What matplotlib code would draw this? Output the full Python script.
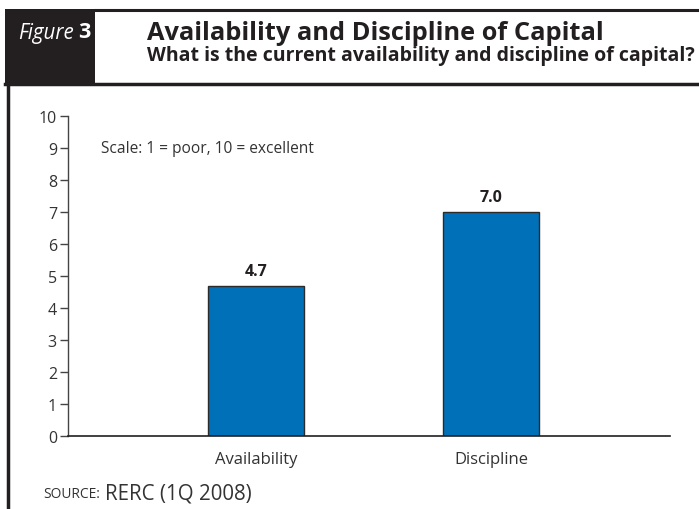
import matplotlib
matplotlib.use("Agg")
import matplotlib.pyplot as plt
from matplotlib.patches import Rectangle
from matplotlib.lines import Line2D

categories = ["Availability", "Discipline"]
values = [4.7, 7.0]
value_labels = ["4.7", "7.0"]
yticks = [0, 1, 2, 3, 4, 5, 6, 7, 8, 9, 10]

W, H = 699, 510
plt.rcParams['font.family'] = ['Open Sans', 'DejaVu Sans']
fig = plt.figure(figsize=(W / 100, H / 100), dpi=100)
renderer = fig.canvas.get_renderer()

def fx(x):
    return x / W

def fy(y):
    return 1 - y / H

def fit(t, target_px):
    w = t.get_window_extent(renderer).width
    t.set_fontsize(t.get_fontsize() * target_px / w)

# Header elements
fig.patches.append(Rectangle((fx(5), fy(85)), fx(95) - fx(5), fy(10) - fy(85),
                             transform=fig.transFigure, facecolor="#231f20",
                             edgecolor="none", zorder=1))
fig.lines.append(Line2D([fx(95), fx(699)], [fy(11), fy(11)], transform=fig.transFigure,
                        color="#231f20", lw=2.2))
fig.lines.append(Line2D([fx(5), fx(699)], [fy(85), fy(85)], transform=fig.transFigure,
                        color="#231f20", lw=2.5))
fig.lines.append(Line2D([fx(8), fx(8)], [fy(85), fy(510)], transform=fig.transFigure,
                        color="#231f20", lw=2.5))

t = fig.text(fx(18), fy(33), "Figure", color="white", fontsize=15, style="italic",
             va="center", ha="left")
fit(t, 56)
t = fig.text(fx(78), fy(33), "3", color="white", fontsize=15.5, fontweight="bold",
             va="center", ha="left")
t = fig.text(fx(147), fy(33), "Availability and Discipline of Capital", color="#231f20",
             fontsize=16, fontweight="bold", va="center", ha="left")
fit(t, 455)
t = fig.text(fx(147), fy(56), "What is the current availability and discipline of capital?",
             color="#231f20", fontsize=12, fontweight="bold", va="center", ha="left")
fit(t, 548)

# Axes
ax = fig.add_axes([fx(68), fy(437), fx(670) - fx(68), fy(117) - fy(437)])
x = list(range(len(categories)))
bars = ax.bar(x, values, width=0.41, color="#0070b8", edgecolor="#2b2b2b", linewidth=1.0,
              zorder=2)
for xi, v, lab in zip(x, values, value_labels):
    ax.annotate(lab, (xi, v), xytext=(0, 5), textcoords="offset points",
                ha="center", va="bottom", fontsize=11.5, fontweight="bold", color="#231f20")

ax.set_xlim(-0.8, 1.762)
ax.set_ylim(0, 10)
ax.set_yticks(yticks)
ax.set_yticklabels([str(v) for v in yticks])
ax.set_xticks(x)
ax.set_xticklabels(categories)
ax.tick_params(axis="y", direction="out", length=6, width=1, color="#444444",
               labelsize=11.5, labelcolor="#333333", pad=2)
ax.tick_params(axis="x", length=0, labelsize=12, labelcolor="#333333", pad=11)
for s in ["top", "right"]:
    ax.spines[s].set_visible(False)
ax.spines["left"].set_color("#444444")
ax.spines["bottom"].set_color("#231f20")
ax.spines["left"].set_linewidth(1)
ax.spines["bottom"].set_linewidth(1.2)

t = ax.text(0.054, 0.9, "Scale: 1 = poor, 10 = excellent", transform=ax.transAxes,
            fontsize=11, color="#333333", ha="left", va="center")
fit(t, 214)

# Source
t = fig.text(fx(43), fy(495), "SOURCE:", fontsize=9, color="#333333", ha="left", va="center")
fit(t, 57)
t = fig.text(fx(105), fy(494), "RERC (1Q 2008)", fontsize=12, color="#333333", ha="left",
             va="center")
fit(t, 147)

fig.savefig("out.png", dpi=100)
